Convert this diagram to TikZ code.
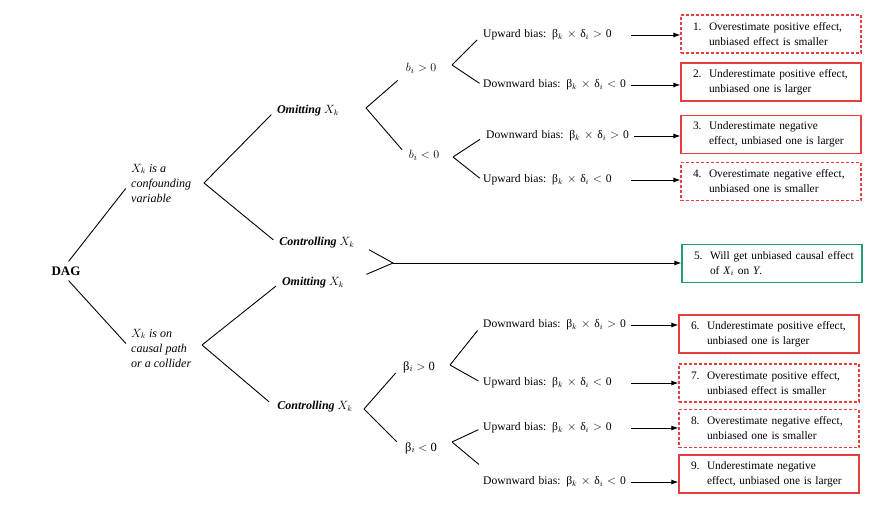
\documentclass[tikz,border=0pt]{standalone}
\usepackage{fontspec}
\setmainfont{Liberation Serif}
\usepackage{amsmath}
\usetikzlibrary{arrows.meta}
\definecolor{boxred}{RGB}{232,62,62}
\definecolor{boxgreen}{RGB}{30,160,110}
\newcommand{\outcome}[3]{\hspace*{5pt}\makebox[16pt][l]{#1}\mbox{#2}\\\hspace*{21pt}\mbox{#3}}
\newcommand{\bias}[3]{#1 bias: β$_k$ $\times$ δ$_i$ $#2$ #3}
\tikzset{
    dagnode/.style={font=\fontsize{13}{15}\selectfont\bfseries, inner sep=5pt},
    cond/.style={font=\fontsize{12}{15}\selectfont\itshape, align=left, anchor=west, inner sep=1pt},
    act/.style={font=\fontsize{12}{14}\selectfont\bfseries\itshape, inner sep=2pt},
    sign/.style={font=\fontsize{12.5}{14}\selectfont, inner sep=2pt},
    biasnode/.style={font=\fontsize{11.6}{14}\selectfont, anchor=west, inner sep=1pt, text width=147pt},
    outbox/.style={draw, line width=1.2pt, font=\fontsize{11.4}{15}\selectfont, align=left,
        text width=166pt, inner xsep=7pt, inner ysep=2pt, minimum height=38pt},
    overbox/.style={outbox, draw=boxred, dash pattern=on 3pt off 2pt},
    underbox/.style={outbox, draw=boxred},
    okbox/.style={outbox, draw=boxgreen},
    branch/.style={line width=0.9pt},
    edge/.style={-{Latex[length=7pt,width=5pt]}, line width=0.9pt}
}
\begin{document}
\begin{tikzpicture}[x=1pt,y=-1pt]
\useasboundingbox (0,0) rectangle (883,507);

\node[dagnode] (dag) at (66,271) {DAG};
\node[cond] (conf) at (130,183) {$X_k$ is a\\confounding\\variable};
\node[cond] (coll) at (130,348) {$X_k$ is on\\causal path\\or a collider};

\node[act] (omit1) at (308,111) {Omitting $X_k$};
\node[act] (ctrl1) at (317,243) {Controlling $X_k$};
\node[act] (omit2) at (313,283) {Omitting $X_k$};
\node[act] (ctrl2) at (315,407) {Controlling $X_k$};

\node[sign] (bpos) at (421,68) {$b_i > 0$};
\node[sign] (bneg) at (424,155) {$b_i < 0$};
\node[sign] (betapos) at (419,367) {β$_i$ $>$ 0};
\node[sign] (betaneg) at (421,448) {β$_i$ $<$ 0};

\node[biasnode] (b1) at (482,35) {\bias{Upward}{>}{0}};
\node[biasnode] (b2) at (482,85) {\bias{Downward}{<}{0}};
\node[biasnode] (b3) at (485,136) {\bias{Downward}{>}{0}};
\node[biasnode] (b4) at (482,180) {\bias{Upward}{<}{0}};
\node[biasnode] (b6) at (482,325) {\bias{Downward}{>}{0}};
\node[biasnode] (b7) at (482,383) {\bias{Upward}{<}{0}};
\node[biasnode] (b8) at (482,428) {\bias{Upward}{>}{0}};
\node[biasnode] (b9) at (482,482) {\bias{Downward}{<}{0}};

\node[overbox] (o1) at (771,34) {\outcome{1.}{Overestimate positive effect,}{unbiased effect is smaller}};
\node[underbox] (o2) at (771,82) {\outcome{2.}{Underestimate positive effect,}{unbiased one is larger}};
\node[underbox] (o3) at (771,134.5) {\outcome{3.}{Underestimate negative}{effect, unbiased one is larger}};
\node[overbox] (o4) at (771,181.5) {\outcome{4.}{Overestimate negative effect,}{unbiased one is smaller}};
\node[okbox] (o5) at (772,263.5) {\outcome{5.}{Will get unbiased causal effect}{of \textit{X}$_i$ on \textit{Y}.}};
\node[underbox] (o6) at (769,334) {\outcome{6.}{Underestimate positive effect,}{unbiased one is larger}};
\node[overbox] (o7) at (769,383) {\outcome{7.}{Overestimate positive effect,}{unbiased effect is smaller}};
\node[overbox] (o8) at (769,428.5) {\outcome{8.}{Overestimate negative effect,}{unbiased one is smaller}};
\node[underbox] (o9) at (769,474) {\outcome{9.}{Underestimate negative}{effect, unbiased one is larger}};

\coordinate (v1) at (204,183);
\coordinate (v2) at (202,345);
\coordinate (v3) at (366,108);
\coordinate (v4) at (364,409);
\coordinate (vm) at (393,263);
\coordinate (r1) at (452,65);
\coordinate (r2) at (453,157);
\coordinate (r3) at (450,365);
\coordinate (r4) at (452,442);

\draw[branch, shorten >=7pt] (dag.75) -- (conf.west);
\draw[branch, shorten >=6pt] (dag.-75) -- (coll.west);

\draw[branch, shorten <=5pt] (omit1.west) -- (v1);
\draw[branch, shorten >=5pt] (v1) -- (ctrl1.west);
\draw[branch, shorten <=5pt] (omit2.west) -- (v2);
\draw[branch, shorten >=8pt] (v2) -- (ctrl2.west);

\draw[branch, shorten <=8pt] (bpos.south west) -- (v3);
\draw[branch, shorten >=7pt] (v3) -- (bneg.west);
\draw[branch, shorten <=8pt] (betapos.west) -- (v4);
\draw[branch, shorten >=9pt] (v4) -- (betaneg.west);

\draw[branch, shorten <=14pt] (ctrl1.east) -- (vm);
\draw[branch, shorten <=22pt] (omit2.east) -- (vm);
\draw[edge] (vm) -- (vm -| o5.west);

\draw[branch, shorten <=7pt] (b1.west) -- (r1);
\draw[branch, shorten >=3pt] (r1) -- (b2.west);
\draw[branch, shorten <=6pt] (b3.west) -- (r2);
\draw[branch, shorten >=3pt] (r2) -- (b4.west);
\draw[branch, shorten <=7pt] (b6.west) -- (r3);
\draw[branch, shorten >=4pt] (r3) -- (b7.west);
\draw[branch, shorten <=4pt] (b8.west) -- (r4);
\draw[branch, shorten >=4pt] (r4) -- ([yshift=15pt]b9.west);

\foreach \b/\o in {b1/o1, b2/o2, b3/o3, b4/o4, b6/o6, b7/o7, b8/o8, b9/o9}
    \draw[edge] (\b.east) -- (\b.east -| \o.west);

\end{tikzpicture}
\end{document}
